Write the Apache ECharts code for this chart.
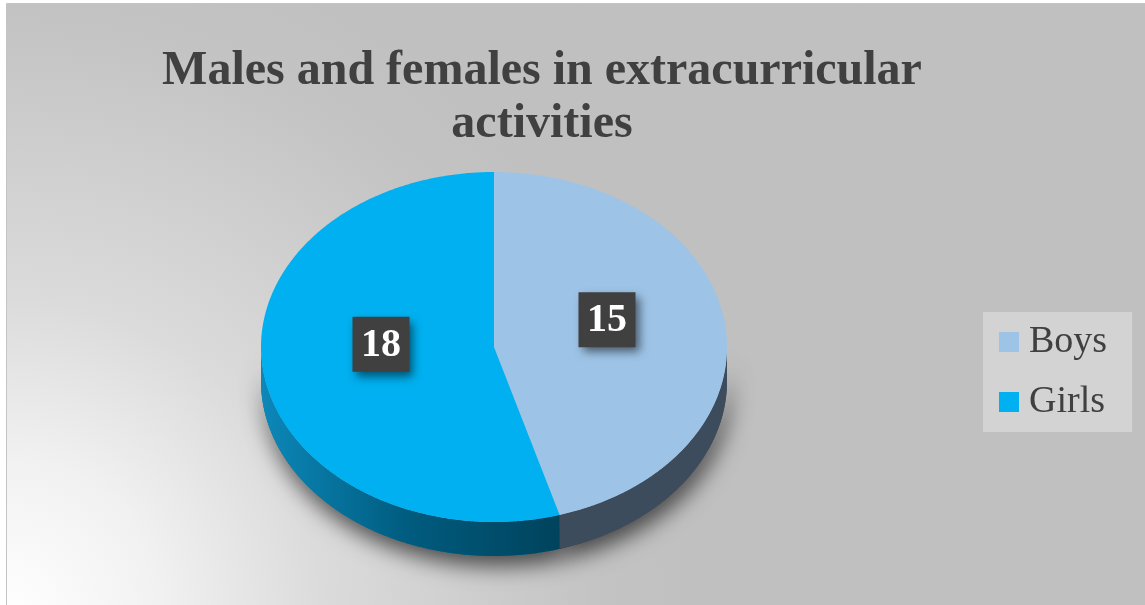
<!DOCTYPE html>
<html>
<head>
<meta charset="utf-8">
<title>Males and females in extracurricular activities</title>
<script src="https://cdn.jsdelivr.net/npm/echarts@6/dist/echarts.min.js"></script>
<style>
  html, body { margin: 0; padding: 0; background: #fff; }
  #chart { width: 1145px; height: 605px; }
</style>
</head>
<body>
<div id="chart"></div>
<script>
// data
var categories = ['Boys', 'Girls'];
var values = [15, 18];

// colours per slice (top face / side wall)
var topColors = ['#9DC3E6', '#00B0F0'];
var sideColors = ['#3D4C5C', '#006A93'];
var sideFills = [
  '#3D4C5C',
  new echarts.graphic.LinearGradient(0, 0, 1, 0, [
    { offset: 0, color: '#0C88B9' },
    { offset: 0.5, color: '#005B7E' },
    { offset: 1, color: '#00435D' }
  ])
];

var FONT = '"Liberation Serif", "Times New Roman", serif';

// 3d pie geometry (ellipse drawn in pixels)
var cx = 494, cy = 347, rx = 233, ry = 175, depth = 34;
var labelR = 0.49, labelCy = cy - 15;
var boxW = 57, boxH = 55;

var total = 0;
var starts = [];
for (var i = 0; i < values.length; i++) {
  starts.push(total);
  total += values[i];
}

// points along the ellipse rim, angles in degrees clockwise from 12 o'clock
function arc(a1, a2, dy) {
  var pts = [];
  var n = Math.max(2, Math.ceil((a2 - a1) / 0.5));
  for (var k = 0; k <= n; k++) {
    var t = (a1 + (a2 - a1) * k / n) * Math.PI / 180;
    pts.push([cx + rx * Math.sin(t), cy - ry * Math.cos(t) + dy]);
  }
  return pts;
}

function renderSlice(params, api) {
  var idx = params.seriesIndex;
  var s = api.value(0), v = api.value(1);
  var a1 = s / total * 360, a2 = (s + v) / total * 360;
  var children = [];

  // front wall only where the rim faces us (90..270 deg)
  var b1 = Math.max(a1, 90), b2 = Math.min(a2, 270);
  if (b2 > b1) {
    var wall = arc(b1, b2, 0).concat(arc(b1, b2, depth).reverse());
    // shadow under the pie
    children.push({
      type: 'polygon', z2: 0,
      shape: { points: wall },
      style: {
        fill: sideColors[idx],
        shadowBlur: 22,
        shadowOffsetX: 3,
        shadowOffsetY: 10,
        shadowColor: 'rgba(0,0,0,0.65)'
      }
    });
    children.push({
      type: 'polygon', z2: 1,
      shape: { points: wall },
      style: { fill: sideFills[idx] }
    });
  }

  children.push({
    type: 'polygon', z2: 2,
    shape: { points: [[cx, cy]].concat(arc(a1, a2, 0)) },
    style: { fill: topColors[idx] }
  });

  // data label: dark box with shadow, white number
  var mid = (a1 + a2) / 2 * Math.PI / 180;
  var lx = cx + labelR * rx * Math.sin(mid);
  var ly = labelCy - labelR * ry * Math.cos(mid);
  children.push({
    type: 'rect', z2: 3,
    shape: { x: lx - boxW / 2, y: ly - boxH / 2, width: boxW, height: boxH },
    style: {
      fill: '#404040',
      shadowColor: 'rgba(0,0,0,0.55)',
      shadowBlur: 9,
      shadowOffsetX: 4,
      shadowOffsetY: 5
    }
  });
  children.push({
    type: 'text', z2: 4,
    x: lx,
    y: ly + 1,
    style: {
      text: String(v),
      fill: '#FFFFFF',
      font: 'bold 40px ' + FONT,
      align: 'center',
      verticalAlign: 'middle'
    }
  });

  return { type: 'group', children: children };
}

var series = categories.map(function (name, i) {
  return {
    name: name,
    type: 'custom',
    coordinateSystem: 'none',
    silent: true,
    itemStyle: { color: topColors[i] },
    data: [[starts[i], values[i]]],
    renderItem: renderSlice
  };
});

var myChart = echarts.init(document.getElementById('chart'), null, { renderer: 'canvas' });
myChart.setOption({
  animation: false,
  graphic: [{
    type: 'rect',
    z: -10,
    silent: true,
    shape: { x: 6.5, y: 3.5, width: 1150, height: 610 },
    style: {
      fill: {
        type: 'radial', x: 0, y: 1, r: 1.15,
        colorStops: [
          { offset: 0, color: '#FFFFFF' },
          { offset: 0.22, color: '#F1F1F1' },
          { offset: 0.45, color: '#DBDBDB' },
          { offset: 0.85, color: '#C3C3C3' },
          { offset: 1, color: '#C0C0C0' }
        ]
      },
      stroke: '#C4C4C4',
      lineWidth: 1
    }
  }],
  title: {
    text: 'Males and females in extracurricular\nactivities',
    left: 542,
    top: 45,
    textAlign: 'center',
    padding: 0,
    textStyle: {
      fontFamily: FONT,
      fontWeight: 'bold',
      fontSize: 48,
      lineHeight: 53,
      color: '#404040'
    }
  },
  legend: {
    orient: 'vertical',
    left: 983,
    top: 312,
    data: categories,
    icon: 'path://M0,0H20V20H0Z M25,10',
    itemWidth: 25,
    itemHeight: 20,
    itemGap: 20,
    backgroundColor: '#D3D3D3',
    padding: [10, 25, 10, 16],
    selectedMode: false,
    textStyle: {
      fontFamily: FONT,
      fontSize: 38,
      lineHeight: 40,
      color: '#404040'
    }
  },
  series: series
});
</script>
</body>
</html>
